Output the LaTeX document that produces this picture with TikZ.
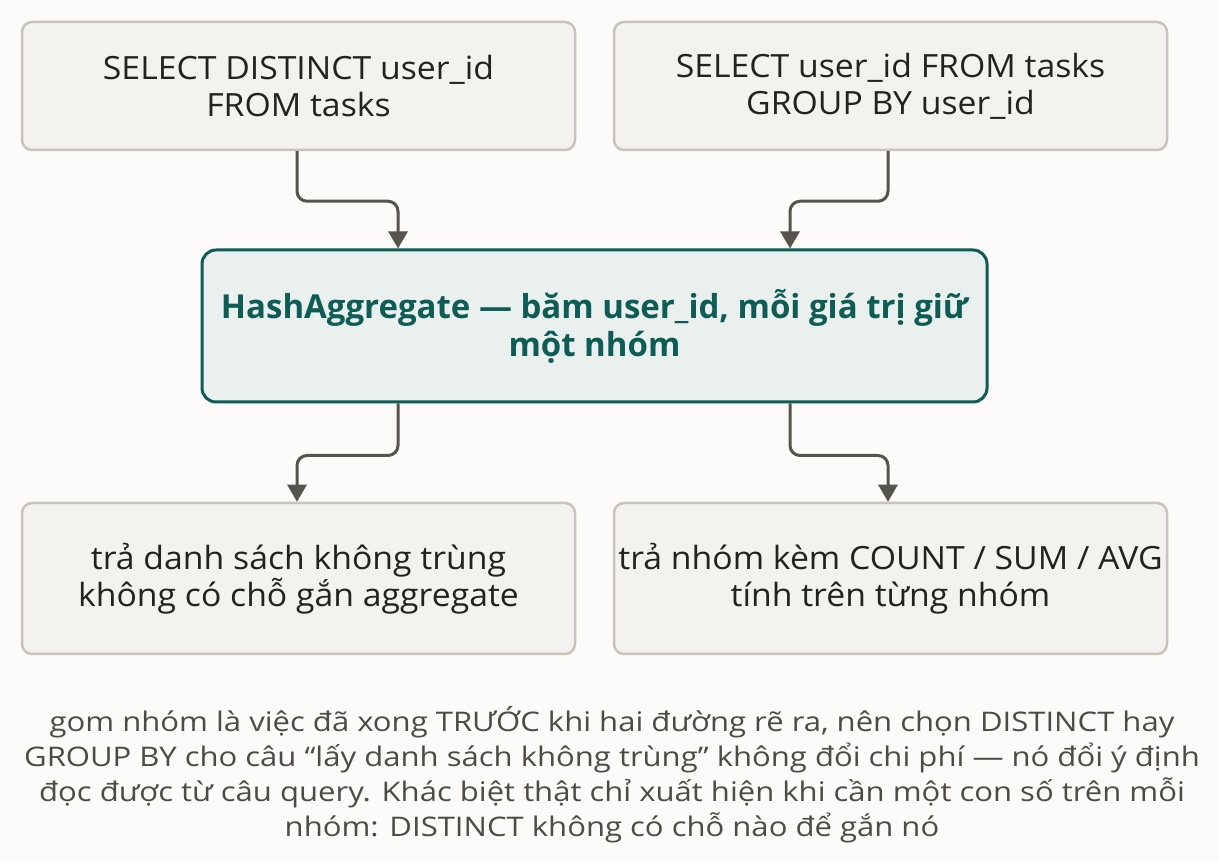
\documentclass[tikz,border=0pt]{standalone}
\usepackage{fontspec}
\setmainfont{Open Sans}
\newfontfamily\boxfont[FakeStretch=1.055]{Open Sans}
\newfontfamily\capfont[FakeStretch=1.15]{Open Sans}
\usetikzlibrary{arrows.meta}
\definecolor{bg}{HTML}{FCFBF9}
\definecolor{boxfill}{HTML}{F3F2EF}
\definecolor{boxline}{HTML}{C9C4BB}
\definecolor{midfill}{HTML}{E9F0EE}
\definecolor{midline}{HTML}{0F5C55}
\definecolor{arrowc}{HTML}{57544E}
\definecolor{textc}{HTML}{23221F}
\definecolor{capc}{HTML}{4E4B45}
\tikzset{
  greybox/.style={draw=boxline, fill=boxfill, line width=2.5pt, rounded corners=10pt,
    minimum width=553pt, minimum height=128pt, inner sep=0pt, align=center,
    text=textc, font=\boxfont\fontsize{32}{37}\selectfont},
  midbox/.style={draw=midline, fill=midfill, line width=3pt, rounded corners=14pt,
    minimum width=785pt, minimum height=152pt, inner sep=0pt, align=center,
    text=midline, font=\fontsize{33}{38}\selectfont\bfseries},
  arr/.style={draw=arrowc, line width=3pt, rounded corners=10pt,
    -{Triangle[length=17pt,width=19pt]}},
  caption/.style={align=center, text=capc, font=\capfont\fontsize{27}{35}\selectfont, inner sep=0pt}
}
\begin{document}
\begin{tikzpicture}[x=1pt,y=1pt]
\fill[bg] (0,0) rectangle (1219,863);
\useasboundingbox (0,0) rectangle (1219,863);
\node[greybox] (tl) at (298.5,777) {SELECT DISTINCT user\_id\\FROM tasks};
\node[greybox] (tr) at (890.5,777) {SELECT user\_id FROM tasks\\GROUP BY user\_id};
\node[midbox] (mid) at (594.5,537) {HashAggregate — băm user\_id, mỗi giá trị giữ\\một nhóm};
\node[greybox, minimum height=151pt] (bl) at (298.5,284.5) {trả danh sách không trùng\\không có chỗ gắn aggregate};
\node[greybox, minimum height=151pt] (br) at (890.5,284.5) {trả nhóm kèm COUNT / SUM / AVG\\tính trên từng nhóm};
\draw[arr] ([xshift=-1.5pt]tl.south) -- ++(0,-50) -| ([xshift=-196.5pt]mid.north);
\draw[arr] ([xshift=-2.5pt]tr.south) -- ++(0,-50) -| ([xshift=195.5pt]mid.north);
\draw[arr] ([xshift=-196.5pt]mid.south) -- ++(0,-52) -| ([xshift=-1.5pt]bl.north);
\draw[arr] ([xshift=195.5pt]mid.south) -- ++(0,-52) -| ([xshift=-2.5pt]br.north);
\node[caption] (cap) at (612,88) {gom nhóm là việc đã xong TRƯỚC khi hai đường rẽ ra, nên chọn DISTINCT hay\\GROUP BY cho câu “lấy danh sách không trùng” không đổi chi phí — nó đổi ý định\\đọc được từ câu query. Khác biệt thật chỉ xuất hiện khi cần một con số trên mỗi\\nhóm: DISTINCT không có chỗ nào để gắn nó};
\end{tikzpicture}
\end{document}
